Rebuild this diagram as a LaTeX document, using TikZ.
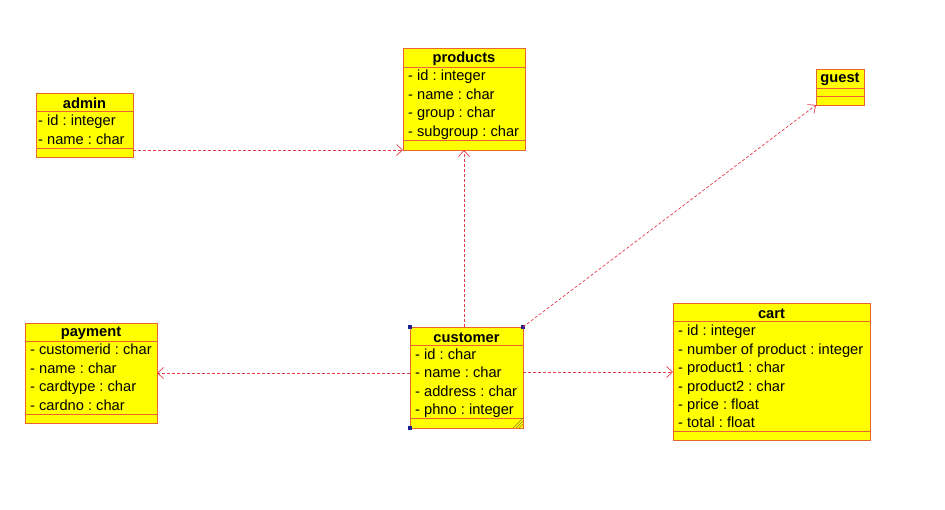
\documentclass[tikz,border=0pt]{standalone}
\usepackage{fontspec}
\setmainfont{Liberation Sans}
\usetikzlibrary{arrows.meta, positioning}

\definecolor{clsfill}{RGB}{255,255,0}
\definecolor{clsline}{RGB}{232,100,48}
\definecolor{depline}{RGB}{228,60,72}
\definecolor{handle}{RGB}{30,30,140}
\definecolor{grip}{RGB}{150,130,40}

\newcommand{\umlfont}{\fontsize{14.67}{17}\selectfont\frenchspacing}

\tikzset{
  cls/.style={draw=clsline, fill=clsfill, line width=0.8pt, anchor=north west, inner sep=0pt, outer sep=0pt},
  clsname/.style={font=\umlfont\bfseries, inner sep=0pt, yshift=-1.5pt},
  attr/.style={font=\umlfont, anchor=west, inner sep=0pt, text height=10.5pt, text depth=3pt, yshift=-1.5pt},
  sep/.style={draw=clsline, line width=0.8pt},
  dep/.style={draw=depline, line width=0.7pt, dash pattern=on 3pt off 2pt, -{Straight Barb[length=6pt,width=11pt]}},
}

\begin{document}
\begin{tikzpicture}[x=1pt, y=-1pt]
\useasboundingbox (0,0) rectangle (945,509);

% admin
\node[cls, minimum width=97pt, minimum height=64pt] (admin) at (36,93) {};
\draw[sep] (36,111) -- (133,111);
\draw[sep] (36,148) -- (133,148);
\node[clsname] (admin-n) at (84.5,102) {admin};
\node[attr] (admin-a1) at (38,120.5) {- id : integer};
\node[attr] (admin-a2) at (38,139) {- name : char};

% products
\node[cls, minimum width=122pt, minimum height=102pt] (products) at (403,48) {};
\draw[sep] (403,67) -- (525,67);
\draw[sep] (403,140) -- (525,140);
\node[clsname] (products-n) at (464,57) {products};
\node[attr] (products-a1) at (408,75.5) {- id : integer};
\node[attr] (products-a2) at (408,94) {- name : char};
\node[attr] (products-a3) at (408,112.5) {- group : char};
\node[attr] (products-a4) at (408,131) {- subgroup : char};

% guest
\node[cls, minimum width=48pt, minimum height=36pt] (guest) at (816,69) {};
\draw[sep] (816,88) -- (864,88);
\draw[sep] (816,96) -- (864,96);
\node[clsname] (guest-n) at (840,78) {guest};

% payment
\node[cls, minimum width=132pt, minimum height=100pt] (payment) at (25,323) {};
\draw[sep] (25,341) -- (157,341);
\draw[sep] (25,414) -- (157,414);
\node[clsname] (payment-n) at (91,332) {payment};
\node[attr] (payment-a1) at (30,349.5) {- customerid : char};
\node[attr] (payment-a2) at (30,368) {- name : char};
\node[attr] (payment-a3) at (30,386.5) {- cardtype : char};
\node[attr] (payment-a4) at (30,405) {- cardno : char};

% customer
\node[cls, minimum width=113pt, minimum height=101pt] (customer) at (410,327) {};
\draw[sep] (410,345) -- (523,345);
\draw[sep] (410,418.5) -- (523,418.5);
\node[clsname] (customer-n) at (466.5,336) {customer};
\node[attr] (customer-a1) at (415,354) {- id : char};
\node[attr] (customer-a2) at (415,372.5) {- name : char};
\node[attr] (customer-a3) at (415,391) {- address : char};
\node[attr] (customer-a4) at (415,409.5) {- phno : integer};
\fill[handle] (408,325) rectangle (412,329);
\fill[handle] (521,325) rectangle (525,329);
\fill[handle] (408,426) rectangle (412,430);
\draw[grip, line width=0.5pt] (513,428) -- (523,418)
  (516,428) -- (523,421) (519,428) -- (523,424);

% cart
\node[cls, minimum width=197pt, minimum height=137pt] (cart) at (673,303.5) {};
\draw[sep] (673,321.5) -- (870,321.5);
\draw[sep] (673,431) -- (870,431);
\node[clsname] (cart-n) at (771.5,312.5) {cart};
\node[attr] (cart-a1) at (678,330.5) {- id : integer};
\node[attr] (cart-a2) at (678,349) {- number of product : integer};
\node[attr] (cart-a3) at (678,367.5) {- product1 : char};
\node[attr] (cart-a4) at (678,386) {- product2 : char};
\node[attr] (cart-a5) at (678,404) {- price : float};
\node[attr] (cart-a6) at (678,422.5) {- total : float};

% dependencies
\draw[dep] (products.south west -| admin.east) -- (products.south west);
\draw[dep] (customer.north -| products.south) -- (products.south);
\draw[dep] (customer.north east) -- (guest.south west);
\draw[dep] (payment.east -| customer.west) -- (payment.east);
\draw[dep] (cart.west -| customer.east) -- (cart.west);
\end{tikzpicture}
\end{document}
